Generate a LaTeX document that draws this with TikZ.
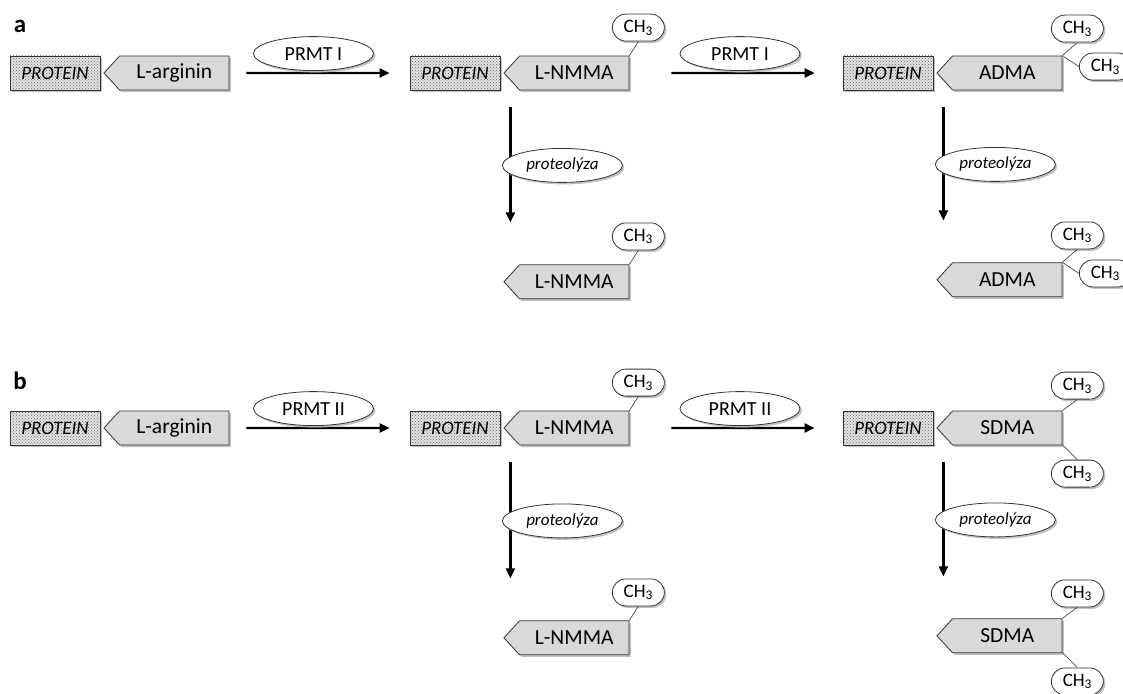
\documentclass[tikz,border=0pt]{standalone}
\usepackage{fontspec}
\setmainfont{Carlito}
\usetikzlibrary{positioning,shapes.symbols,shapes.misc,shapes.geometric,shadows,patterns,arrows.meta}

\tikzset{
  shade/.style={drop shadow={shadow xshift=2pt, shadow yshift=-2pt, fill=black!30, opacity=0.8}},
  protein/.style={shade, draw=black!80, line width=0.8pt, preaction={fill=gray!22},
    pattern=crosshatch dots, pattern color=black!60, minimum width=90pt, minimum height=34pt,
    inner sep=0pt, font=\fontsize{19}{21}\selectfont\itshape},
  amino/.style={signal, signal to=west, signal pointer angle=95, shade, draw=black!80,
    line width=0.8pt, fill=gray!30, minimum width=125pt, minimum height=34pt, inner sep=0pt,
    font=\fontsize{21.5}{24}\selectfont},
  enzyme/.style={ellipse, shade, draw=black!80, line width=0.8pt, fill=white,
    minimum width=120pt, minimum height=34pt, inner sep=0pt, font=\fontsize{20}{22}\selectfont},
  lysis/.style={enzyme, font=\fontsize{17}{20}\selectfont\itshape},
  methyl/.style={rounded rectangle, shade, draw=black!80, line width=0.8pt, fill=white,
    minimum width=52pt, minimum height=27pt, inner sep=0pt, font=\fontsize{19}{21}\selectfont},
  arr/.style={line width=2.2pt, -{Triangle[length=10pt,width=9pt]}},
  bond/.style={draw=black!70, line width=0.7pt},
  panel/.style={font=\fontsize{25}{27}\selectfont\bfseries}
}

\begin{document}
\begin{tikzpicture}[x=1pt, y=1pt]
  \useasboundingbox (0,0) rectangle (1123,-693);

  % Popisky
  \node[panel] (lblA) at (20,-26) {a};
  \node[panel] (lblB) at (20,-381) {b};

  % Rada a
  \node[protein] (protA1) at (55,-73) {PROTEIN};
  \node[amino, right=3pt of protA1] (argA) {L-arginin};
  \node[protein] (protA2) at (455,-73) {PROTEIN};
  \node[amino, right=3pt of protA2] (nmmaA) {L-NMMA};
  \node[protein] (protA3) at (888,-73) {PROTEIN};
  \node[amino, right=3pt of protA3] (admaA) {ADMA};
  \node[amino, below=174pt of nmmaA] (nmmaA2) {L-NMMA};
  \node[amino, below=172pt of admaA] (admaA2) {ADMA};

  % Rada b
  \node[protein] (protB1) at (55,-428) {PROTEIN};
  \node[amino, right=3pt of protB1] (argB) {L-arginin};
  \node[protein] (protB2) at (455,-428) {PROTEIN};
  \node[amino, right=3pt of protB2] (nmmaB) {L-NMMA};
  \node[protein] (protB3) at (888,-428) {PROTEIN};
  \node[amino, right=3pt of protB3] (sdmaB) {SDMA};
  \node[amino, below=175pt of nmmaB] (nmmaB2) {L-NMMA};
  \node[amino, below=173pt of sdmaB] (sdmaB2) {SDMA};

  % Metylove skupiny
  \node[methyl] (mA1) at ([shift={(9,28)}]nmmaA.north east) {CH\textsubscript{3}};
  \node[methyl] (mA2) at ([shift={(9,28)}]nmmaA2.north east) {CH\textsubscript{3}};
  \node[methyl] (mA3) at ([shift={(15,27)}]admaA.north east) {CH\textsubscript{3}};
  \node[methyl] (mA4) at ([shift={(43,-11)}]admaA.north east) {CH\textsubscript{3}};
  \node[methyl] (mA5) at ([shift={(15,27)}]admaA2.north east) {CH\textsubscript{3}};
  \node[methyl] (mA6) at ([shift={(43,-11)}]admaA2.north east) {CH\textsubscript{3}};
  \node[methyl] (mB1) at ([shift={(9,28)}]nmmaB.north east) {CH\textsubscript{3}};
  \node[methyl] (mB2) at ([shift={(9,28)}]nmmaB2.north east) {CH\textsubscript{3}};
  \node[methyl] (mB3) at ([shift={(15,25)}]sdmaB.north east) {CH\textsubscript{3}};
  \node[methyl] (mB4) at ([shift={(15,-29)}]sdmaB.south east) {CH\textsubscript{3}};
  \node[methyl] (mB5) at ([shift={(15,25)}]sdmaB2.north east) {CH\textsubscript{3}};
  \node[methyl] (mB6) at ([shift={(15,-29)}]sdmaB2.south east) {CH\textsubscript{3}};

  \draw[bond] (nmmaA.north east) -- (mA1.south);
  \draw[bond] (nmmaA2.north east) -- (mA2.south);
  \draw[bond] (admaA.north east) -- (mA3.south);
  \draw[bond] (admaA.north east) -- (mA4.west);
  \draw[bond] (admaA2.north east) -- (mA5.south);
  \draw[bond] (admaA2.north east) -- (mA6.west);
  \draw[bond] (nmmaB.north east) -- (mB1.south);
  \draw[bond] (nmmaB2.north east) -- (mB2.south);
  \draw[bond] (sdmaB.north east) -- (mB3.south);
  \draw[bond] (sdmaB.south east) -- (mB4.north);
  \draw[bond] (sdmaB2.north east) -- (mB5.south);
  \draw[bond] (sdmaB2.south east) -- (mB6.north);

  % Sipky
  \draw[arr, shorten <=17pt, shorten >=20pt] (argA) -- (protA2)
    node[enzyme, midway, above=2pt, xshift=-6pt] {PRMT I};
  \draw[arr, shorten <=42pt, shorten >=28pt] (nmmaA) -- (protA3)
    node[enzyme, midway, above=2pt, xshift=4pt] {PRMT I};
  \draw[arr, shorten <=17pt, shorten >=20pt] (argB) -- (protB2)
    node[enzyme, midway, above=2pt, xshift=-6pt] {PRMT II};
  \draw[arr, shorten <=42pt, shorten >=28pt] (nmmaB) -- (protB3)
    node[enzyme, midway, above=2pt, xshift=4pt] {PRMT II};

  \draw[arr, shorten <=17pt, shorten >=42pt] ([xshift=7pt]nmmaA.west |- nmmaA.south) -- ([xshift=7pt]nmmaA2.west |- nmmaA2.north)
    node[lysis, midway, xshift=52pt, yshift=12pt] {proteolýza};
  \draw[arr, shorten <=17pt, shorten >=42pt] ([xshift=7pt]admaA.west |- admaA.south) -- ([xshift=7pt]admaA2.west |- admaA2.north)
    node[lysis, midway, xshift=52pt, yshift=12pt] {proteolýza};
  \draw[arr, shorten <=17pt, shorten >=42pt] ([xshift=7pt]nmmaB.west |- nmmaB.south) -- ([xshift=7pt]nmmaB2.west |- nmmaB2.north)
    node[lysis, midway, xshift=52pt, yshift=12pt] {proteolýza};
  \draw[arr, shorten <=17pt, shorten >=42pt] ([xshift=7pt]sdmaB.west |- sdmaB.south) -- ([xshift=7pt]sdmaB2.west |- sdmaB2.north)
    node[lysis, midway, xshift=52pt, yshift=12pt] {proteolýza};
\end{tikzpicture}
\end{document}
